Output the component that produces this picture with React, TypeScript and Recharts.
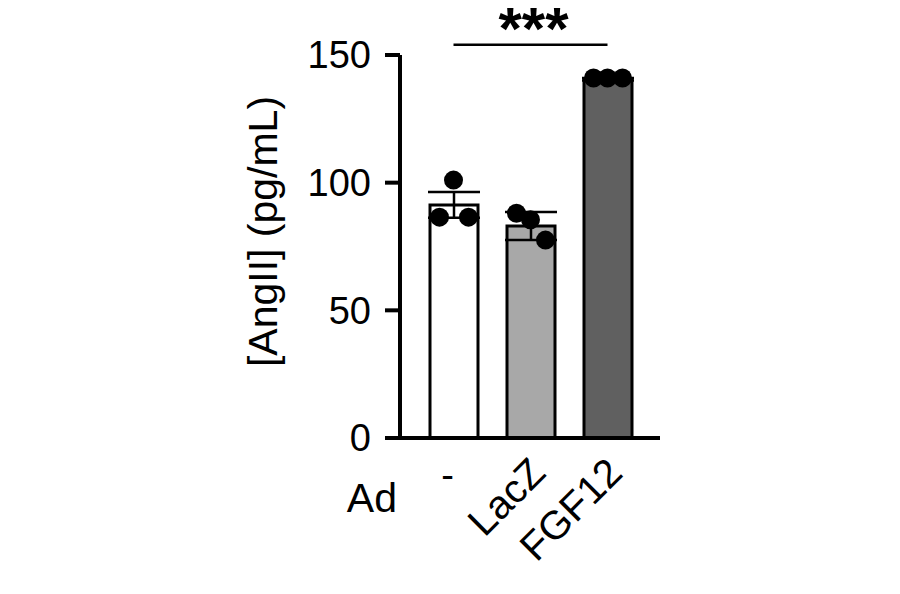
import React from 'react';
import {
  ComposedChart,
  Bar,
  Cell,
  ErrorBar,
  Scatter,
  XAxis,
  YAxis,
  ReferenceLine,
} from 'recharts';

const groups = ['-', 'LacZ', 'FGF12'];
const means = [91.3, 83, 140.5];
const sems = [5, 5.5, 0.5];
const rep1 = [86.5, 88, 141];
const rep2 = [101, 85.5, 141];
const rep3 = [86.5, 77.5, 141];
const barColors = ['#ffffff', '#a8a8a8', '#606060'];
const yTicks = [0, 50, 100, 150];
const sigLevel = 154;

const data = groups.map((g, i) => ({
  group: g,
  mean: means[i],
  sem: sems[i],
  r1: rep1[i],
  r2: rep2[i],
  r3: rep3[i],
}));

const FONT = '"Liberation Sans", Arial, sans-serif';

const makeDot = (offset: number) => (props: any) => {
  const { cx, cy } = props;
  if (cx == null || cy == null) return null;
  return <circle cx={cx + offset} cy={cy} r={9.5} fill="#000" />;
};

const XTick = (props: any) => {
  const { x, y, payload } = props;
  const label = payload.value as string;
  if (label.length === 1) {
    return (
      <text x={x - 6} y={y + 50} textAnchor="middle" fontSize={38} fontFamily={FONT} fill="#000">
        {label}
      </text>
    );
  }
  const ax = x + 17;
  const ay = y + 37;
  return (
    <text
      x={ax}
      y={ay}
      textAnchor="end"
      fontSize={40}
      fontFamily={FONT}
      fill="#000"
      transform={`rotate(-45 ${ax} ${ay})`}
    >
      {label}
    </text>
  );
};

export default function App() {
  return (
    <div style={{ width: 884, height: 578, background: '#fff' }}>
      <ComposedChart
        width={884}
        height={578}
        data={data}
        margin={{ top: 47, right: 232, bottom: 28, left: 272 }}
      >
        <XAxis
          dataKey="group"
          height={120}
          padding={{ left: 15, right: 14 }}
          axisLine={{ stroke: '#000', strokeWidth: 4 }}
          tickLine={false}
          tickSize={0}
          tickMargin={0}
          interval={0}
          tick={<XTick />}
          label={{
            value: 'Ad',
            content: (p: any) => {
              const vb = p.viewBox;
              return (
                <text
                  x={vb.x - 3}
                  y={vb.y + 74}
                  textAnchor="end"
                  fontSize={41}
                  fontFamily={FONT}
                  fill="#000"
                >
                  Ad
                </text>
              );
            },
          }}
        />
        <YAxis
          width={120}
          domain={[0, 150]}
          ticks={yTicks}
          axisLine={{ stroke: '#000', strokeWidth: 4 }}
          tickLine={{ stroke: '#000', strokeWidth: 4 }}
          tickSize={15}
          tickMargin={14}
          tick={{ fill: '#000', fontSize: 38, fontFamily: FONT }}
          label={{
            value: '[AngII] (pg/mL)',
            content: (p: any) => {
              const vb = p.viewBox;
              const cx = vb.x - 3;
              const cy = vb.y + vb.height / 2 - 15;
              return (
                <text
                  x={cx}
                  y={cy}
                  textAnchor="middle"
                  fontSize={41}
                  fontFamily={FONT}
                  fill="#000"
                  transform={`rotate(-90 ${cx} ${cy})`}
                >
                  [AngII] (pg/mL)
                </text>
              );
            },
          }}
        />
        <Bar dataKey="mean" barSize={48} stroke="#000" strokeWidth={3} isAnimationActive={false}>
          {data.map((d, i) => (
            <Cell key={d.group} fill={barColors[i]} />
          ))}
          <ErrorBar dataKey="sem" width={26} stroke="#000" strokeWidth={2.5} direction="y" />
        </Bar>
        <Scatter dataKey="r1" shape={makeDot(-14)} isAnimationActive={false} />
        <Scatter dataKey="r2" shape={makeDot(0)} isAnimationActive={false} />
        <Scatter dataKey="r3" shape={makeDot(15)} isAnimationActive={false} />
        <ReferenceLine
          segment={[
            { x: groups[0], y: sigLevel },
            { x: groups[2], y: sigLevel },
          ]}
          ifOverflow="visible"
          stroke="#000"
          strokeWidth={2.5}
          label={{
            value: '***',
            content: (p: any) => {
              const vb = p.viewBox || {};
              const x = (vb.x ?? 0) + (vb.width ?? 0) / 2;
              const y = vb.y ?? 0;
              return (
                <text
                  x={x + 3}
                  y={y + 4}
                  textAnchor="middle"
                  fontSize={60}
                  fontWeight="bold"
                  fontFamily={FONT}
                  fill="#000"
                >
                  ***
                </text>
              );
            },
          }}
        />
      </ComposedChart>
    </div>
  );
}
